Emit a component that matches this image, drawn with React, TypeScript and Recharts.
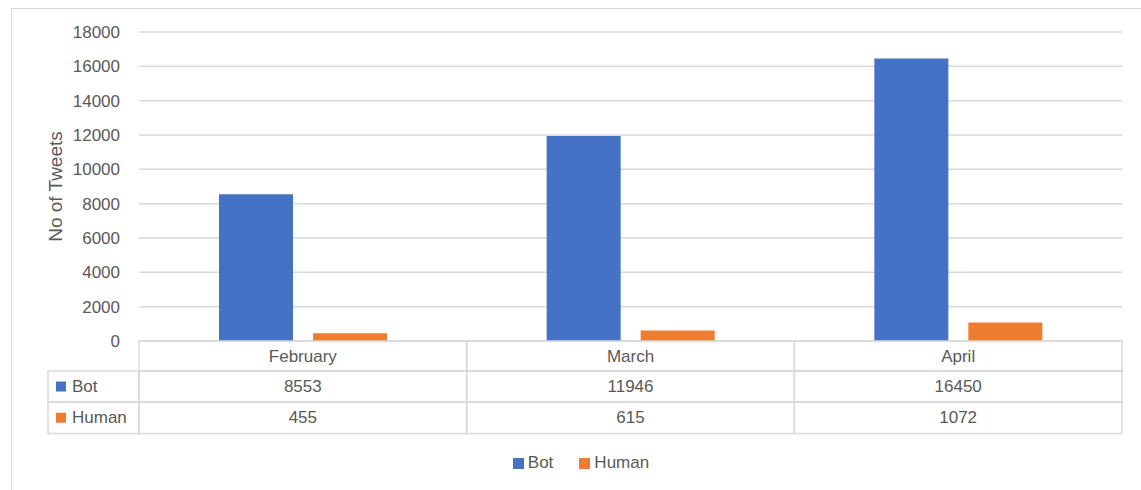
import React from 'react';
import { BarChart, Bar, XAxis, YAxis, CartesianGrid, Legend } from 'recharts';

const months = ['February', 'March', 'April'];
const botValues = [8553, 11946, 16450];
const humanValues = [455, 615, 1072];
const seriesNames = ['Bot', 'Human'];
const seriesColors = ['#4472c4', '#ed7d31'];
const yTicks = [0, 2000, 4000, 6000, 8000, 10000, 12000, 14000, 16000, 18000];
const yLabel = 'No of Tweets';

const data = months.map((m, i) => ({ month: m, Bot: botValues[i], Human: humanValues[i] }));
const seriesValues = [botValues, humanValues];

const W = 1141;
const H = 490;
const MARGIN = { top: 32, right: 19, left: 0, bottom: 12 };
const Y_AXIS_W = 139;
const LEGEND_H = 30;
const X_AXIS_H = 107;
const PLOT_LEFT = MARGIN.left + Y_AXIS_W;
const PLOT_RIGHT = W - MARGIN.right;
const PLOT_BOTTOM = H - MARGIN.bottom - LEGEND_H - X_AXIS_H;
const BAND = (PLOT_RIGHT - PLOT_LEFT) / months.length;
const ROW_H = [30, 31, 31.5];
const KEY_LEFT = 48;
const TEXT = '#595959';
const LINE = '#d9d9d9';
const FONT = '"Liberation Sans", Arial, sans-serif';
const FS = 17;

const TableTick = (props: any) => {
  const { x, payload } = props;
  const i = typeof payload.index === 'number' ? payload.index : months.indexOf(payload.value);
  const left = x - BAND / 2;
  const rowTops = [PLOT_BOTTOM, PLOT_BOTTOM + ROW_H[0], PLOT_BOTTOM + ROW_H[0] + ROW_H[1]];
  const cells = [months[i], ...seriesValues.map((v) => String(v[i]))];
  return (
    <g>
      {cells.map((c, r) => (
        <g key={r}>
          <rect x={left} y={rowTops[r]} width={BAND} height={ROW_H[r]} fill="none" stroke={LINE} strokeWidth={1.5} />
          <text x={x} y={rowTops[r] + ROW_H[r] / 2} textAnchor="middle" dominantBaseline="central" fill={TEXT} fontSize={FS} fontFamily={FONT}>
            {c}
          </text>
        </g>
      ))}
      {i === 0 &&
        seriesNames.map((s, k) => (
          <g key={s}>
            <rect x={KEY_LEFT} y={rowTops[k + 1]} width={left - KEY_LEFT} height={ROW_H[k + 1]} fill="none" stroke={LINE} strokeWidth={1.5} />
            <rect x={KEY_LEFT + 8} y={rowTops[k + 1] + ROW_H[k + 1] / 2 - 5} width={10} height={10} fill={seriesColors[k]} />
            <text x={KEY_LEFT + 24} y={rowTops[k + 1] + ROW_H[k + 1] / 2} dominantBaseline="central" fill={TEXT} fontSize={FS} fontFamily={FONT}>
              {s}
            </text>
          </g>
        ))}
    </g>
  );
};

const LegendContent = () => (
  <div style={{ height: LEGEND_H, display: 'flex', justifyContent: 'center', alignItems: 'center', paddingLeft: 40, fontFamily: FONT, fontSize: FS, color: TEXT }}>
    {seriesNames.map((s, k) => (
      <div key={s} style={{ display: 'flex', alignItems: 'center', marginRight: k === 0 ? 26 : 0 }}>
        <span style={{ width: 11, height: 11, background: seriesColors[k], display: 'inline-block', marginRight: 4 }} />
        <span>{s}</span>
      </div>
    ))}
  </div>
);

const YLabel = (props: any) => {
  const vb = props.viewBox || { x: 0, y: 0, width: 0, height: 0 };
  const cx = 55;
  const cy = vb.y + vb.height / 2;
  return (
    <text x={cx} y={cy} transform={`rotate(-90 ${cx} ${cy})`} textAnchor="middle" dominantBaseline="central" fill={TEXT} fontSize={19} fontFamily={FONT}>
      {yLabel}
    </text>
  );
};

export default function App() {
  return (
    <div style={{ position: 'absolute', left: 0, top: 0, width: W, height: H, background: '#fff', overflow: 'hidden' }}>
      <div style={{ position: 'absolute', left: 11, top: 8, right: -10, bottom: -10, borderLeft: `1.5px solid ${LINE}`, borderTop: `1.5px solid ${LINE}` }} />
      <div style={{ position: 'absolute', left: 0, top: 0 }}>
        <BarChart width={W} height={H} data={data} margin={MARGIN} barSize={74} barGap={20}>
          <CartesianGrid vertical={false} stroke={LINE} strokeWidth={1.5} />
          <XAxis dataKey="month" height={X_AXIS_H} axisLine={false} tickLine={false} interval={0} tick={<TableTick />} />
          <YAxis
            width={Y_AXIS_W}
            domain={[0, 18000]}
            ticks={yTicks}
            axisLine={false}
            tickLine={false}
            tickMargin={13}
            tick={{ fill: TEXT, fontSize: FS, fontFamily: FONT }}
            label={<YLabel />}
          />
          <Legend verticalAlign="bottom" content={<LegendContent />} />
          {seriesNames.map((s, k) => (
            <Bar key={s} dataKey={s} fill={seriesColors[k]} isAnimationActive={false} />
          ))}
        </BarChart>
      </div>
    </div>
  );
}
